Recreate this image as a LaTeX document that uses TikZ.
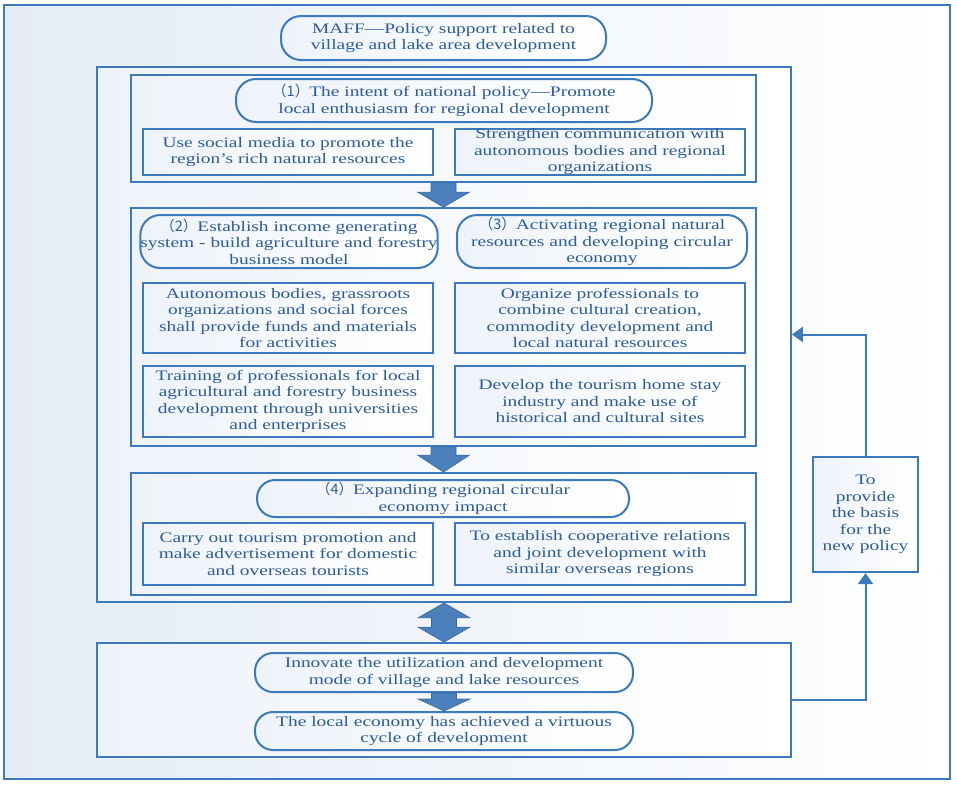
\documentclass[tikz,border=0pt]{standalone}
\usepackage{fontspec}
\setmainfont{Liberation Serif}[FakeStretch=1.34]
\newfontfamily\cjk{Noto Sans CJK SC}
\usetikzlibrary{calc,arrows.meta}
\definecolor{linec}{RGB}{60,122,190}
\definecolor{textc}{RGB}{44,92,158}
\definecolor{arrowfill}{RGB}{76,128,188}
\definecolor{arrowline}{RGB}{58,104,160}
\definecolor{tintA}{RGB}{228,236,246}
\definecolor{tintB}{RGB}{238,243,250}
\newcommand{\txtfont}{\fontsize{14.5}{16.5}\selectfont}
\newcommand{\pp}[1]{{\cjk （#1）}}
\newcommand{\blockdown}[3]{%
  \path[blockarrow] let \p1=(#1), \p2=(#2) in
    (\x2-12.5pt,\y1) -- (\x2+12.5pt,\y1) -- (\x2+12.5pt,\y2+#3) -- (\x2+26pt,\y2+#3)
    -- (\x2,\y2) -- (\x2-26pt,\y2+#3) -- (\x2-12.5pt,\y2+#3) -- cycle;}
\newcommand{\blockboth}[3]{%
  \path[blockarrow] let \p1=(#1), \p2=(#2) in
    (\x2,\y1) -- (\x2+26pt,\y1-#3) -- (\x2+12.5pt,\y1-#3) -- (\x2+12.5pt,\y2+#3)
    -- (\x2+26pt,\y2+#3) -- (\x2,\y2) -- (\x2-26pt,\y2+#3) -- (\x2-12.5pt,\y2+#3)
    -- (\x2-12.5pt,\y1-#3) -- (\x2-26pt,\y1-#3) -- cycle;}
\tikzset{
  frame/.style={draw=linec, line width=1.8pt, inner sep=0pt, left color=tintB, right color=white},
  sqbox/.style={frame, line width=2.3pt, font=\txtfont, text=textc, align=center},
  rbox/.style={frame, line width=2pt, rounded corners=20pt, font=\txtfont, text=textc, align=center},
  blockarrow/.style={fill=arrowfill, draw=arrowline, line width=0.6pt},
  conn/.style={draw=linec, line width=2pt, -{Triangle[width=15pt,length=11pt]}}
}
\begin{document}
\begin{tikzpicture}[x=1pt,y=-1pt]
\useasboundingbox (0,0) rectangle (957,785);
% outer frame
\node[frame, line width=1.5pt, left color=tintA, right color=white, minimum width=946pt, minimum height=774pt] (outer) at (477,392) {};
% top title
\node[rbox, minimum width=325pt, minimum height=44pt] (maff) at (443.5,38)
  {MAFF—Policy support related to\\village and lake area development};
% big box 1
\node[frame, minimum width=694pt, minimum height=535pt] (big1) at (444,334.5) {};
% section 1
\node[frame, minimum width=625pt, minimum height=107pt] (sec1) at (443.5,128.5) {};
\node[rbox, minimum width=416pt, minimum height=43pt] (r1) at (444,100.5)
  {\pp{1}The intent of national policy—Promote\\local enthusiasm for regional development};
\node[sqbox, minimum width=290pt, minimum height=46pt] (b1l) at (288,152)
  {Use social media to promote the\\region's rich natural resources};
\node[sqbox, minimum width=290pt, minimum height=46pt] (b1r) at (600,152)
  {Strengthen communication with\\autonomous bodies and regional\\organizations};
% section 2/3
\node[frame, minimum width=625pt, minimum height=238pt] (sec2) at (443.5,327) {};
\node[rbox, minimum width=292pt, minimum height=53pt] (r2) at (289,241.5)
  {\pp{2}Establish income generating\\system - build agriculture and forestry\\business model};
\node[rbox, minimum width=290pt, minimum height=53pt] (r3) at (602,241.5)
  {\pp{3}Activating regional natural\\resources and developing circular\\economy};
\node[sqbox, minimum width=290pt, minimum height=70pt] (b2l) at (288,318)
  {Autonomous bodies, grassroots\\organizations and social forces\\shall provide funds and materials\\for activities};
\node[sqbox, minimum width=290pt, minimum height=70pt] (b2r) at (600,318)
  {Organize professionals to\\combine cultural creation,\\commodity development and\\local natural resources};
\node[sqbox, minimum width=290pt, minimum height=71pt] (b3l) at (288,401.5)
  {Training of professionals for local\\agricultural and forestry business\\development through universities\\and enterprises};
\node[sqbox, minimum width=290pt, minimum height=71pt] (b3r) at (600,401.5)
  {Develop the tourism home stay\\industry and make use of\\historical and cultural sites};
% section 4
\node[frame, minimum width=625pt, minimum height=122pt] (sec4) at (443.5,534) {};
\node[rbox, minimum width=372pt, minimum height=37pt, rounded corners=18pt] (r4) at (443,498.5)
  {\pp{4}Expanding regional circular\\economy impact};
\node[sqbox, minimum width=290pt, minimum height=62pt] (b4l) at (288,554)
  {Carry out tourism promotion and\\make advertisement for domestic\\and overseas tourists};
\node[sqbox, minimum width=290pt, minimum height=62pt] (b4r) at (600,554)
  {To establish cooperative relations\\and joint development with\\similar overseas regions};
% big box 2
\node[frame, minimum width=694pt, minimum height=114pt] (big2) at (444,700) {};
\node[rbox, minimum width=378pt, minimum height=39pt, rounded corners=18pt] (r5) at (444,672.5)
  {Innovate the utilization and development\\mode of village and lake resources};
\node[rbox, minimum width=378pt, minimum height=38pt, rounded corners=18pt] (r6) at (444,731)
  {The local economy has achieved a virtuous\\cycle of development};
% side box
\node[sqbox, minimum width=105pt, minimum height=115pt] (basis) at (865.5,514.5)
  {To\\provide\\the basis\\for the\\new policy};
% block arrows
\blockdown{sec1.south}{sec2.north}{15pt}
\blockdown{sec2.south}{sec4.north}{17pt}
\blockboth{big1.south}{big2.north}{15pt}
\blockdown{r5.south}{r6.north}{12pt}
% connectors
\draw[conn] (big2.east) -| (basis.south);
\draw[conn] (basis.north) |- (big1.east);
\end{tikzpicture}
\end{document}
